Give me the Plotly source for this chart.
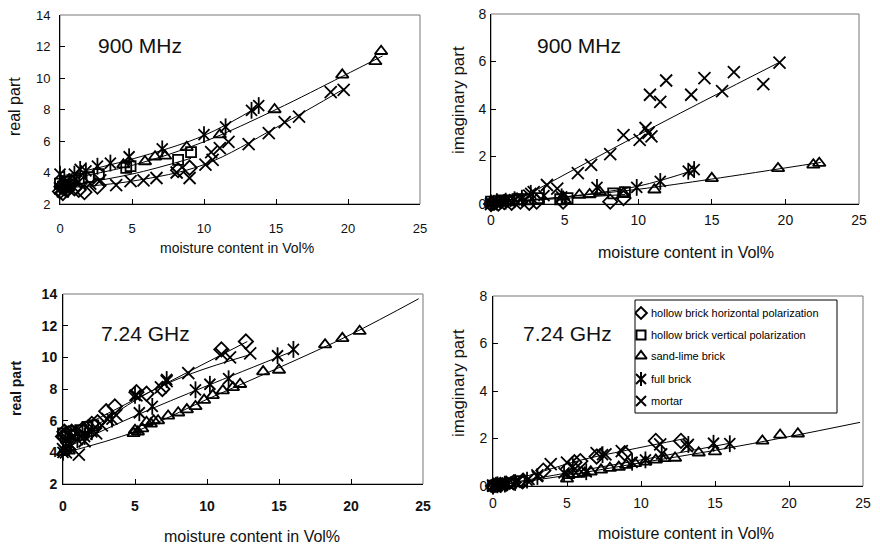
import plotly.graph_objects as go

W, H = 880, 546
FONT = "Arial, Liberation Sans, sans-serif"

# ---------------- DATA ----------------
# Panel 1: 900 MHz, real part
p1_hh_x = [0.0, 0.1, 0.2, 0.3, 0.5, 0.7, 1.0, 1.3, 1.7, 2.6, 8.2, 9.0]
p1_hh_y = [2.8, 3.1, 2.7, 3.0, 2.9, 3.2, 3.0, 2.9, 2.75, 3.1, 4.15, 4.3]
p1_hv_x = [0.0, 0.2, 0.4, 0.6, 1.0, 1.5, 2.0, 2.7, 4.6, 4.9, 8.2, 9.1]
p1_hv_y = [3.3, 3.1, 3.4, 3.2, 3.5, 3.6, 3.7, 3.9, 4.3, 4.4, 4.8, 5.3]
p1_sl_x = [0.1, 0.4, 0.8, 4.4, 5.9, 6.6, 7.3, 8.8, 11.1, 14.9, 19.6, 21.9, 22.3]
p1_sl_y = [3.3, 3.2, 3.5, 4.5, 4.7, 5.0, 5.05, 5.6, 6.4, 8.0, 10.2, 11.05, 11.7]
p1_fb_x = [0.0, 0.3, 1.0, 1.4, 1.8, 2.6, 3.5, 4.8, 7.1, 10.0, 11.5, 13.3, 13.8]
p1_fb_y = [3.9, 3.6, 3.9, 4.2, 4.1, 4.4, 4.6, 5.0, 5.5, 6.4, 6.9, 7.95, 8.25]
p1_mo_x = [0.0, 0.2, 0.5, 0.9, 1.3, 2.1, 2.8, 3.9, 4.9, 5.8, 6.7, 8.1, 9.0, 10.1,
           10.6, 10.5, 11.1, 11.7, 13.1, 14.5, 15.6, 16.6, 18.8, 19.7]
p1_mo_y = [3.0, 2.8, 3.2, 3.1, 3.4, 3.3, 3.5, 3.2, 3.45, 3.5, 3.65, 4.0, 3.65, 4.5,
           4.8, 5.3, 5.55, 5.95, 5.8, 6.5, 7.2, 7.55, 9.1, 9.25]
p1_fit = {
    "fb": ([0, 5, 10, 13.8], [3.75, 4.85, 6.35, 8.2]),
    "sl": ([0, 5, 10, 15, 19.6, 22.4], [3.5, 4.45, 5.95, 8.0, 10.1, 11.4]),
    "mo": ([0, 5, 10, 15, 19.8], [3.0, 3.45, 4.5, 6.85, 9.35]),
    "hb": ([0, 5, 9.1], [3.1, 3.9, 4.9]),
}

# Panel 2: 900 MHz, imaginary part
p2_hh_x = [0.0, 0.2, 0.5, 0.9, 1.4, 2.0, 2.6, 3.1, 4.9, 8.1, 9.0]
p2_hh_y = [0.0, 0.05, 0.02, 0.08, 0.05, 0.1, 0.05, 0.1, 0.1, 0.1, 0.25]
p2_hv_x = [0.0, 0.3, 0.7, 1.2, 1.8, 2.5, 3.2, 4.7, 5.2, 8.3, 9.1]
p2_hv_y = [0.1, 0.1, 0.15, 0.15, 0.2, 0.2, 0.25, 0.2, 0.25, 0.45, 0.5]
p2_sl_x = [0.1, 0.5, 1.0, 4.9, 6.0, 6.7, 7.4, 9.0, 11.1, 15.0, 19.5, 21.9, 22.3]
p2_sl_y = [0.05, 0.1, 0.1, 0.3, 0.38, 0.4, 0.5, 0.45, 0.6, 1.08, 1.5, 1.65, 1.72]
p2_fb_x = [0.0, 0.4, 1.0, 1.6, 2.1, 2.7, 3.6, 4.8, 7.2, 9.9, 11.5, 13.4, 13.8]
p2_fb_y = [0.05, 0.1, 0.12, 0.18, 0.25, 0.45, 0.35, 0.3, 0.7, 0.7, 0.95, 1.38, 1.45]
p2_mo_x = [0.0, 0.3, 0.8, 1.3, 2.0, 2.6, 2.9, 3.8, 4.5, 5.9, 6.8, 8.1, 9.0, 10.1, 10.5,
           10.7, 10.9, 10.8, 11.5, 11.9, 13.6, 14.5, 15.7, 16.5, 18.5, 19.6]
p2_mo_y = [0.0, 0.05, 0.1, 0.15, 0.2, 0.35, 0.5, 0.8, 0.65, 1.3, 1.65, 2.1, 2.9, 2.7, 3.2,
           3.0, 2.85, 4.6, 4.3, 5.2, 4.6, 5.3, 4.75, 5.55, 5.05, 5.95]
p2_fit = {
    "mo": ([0, 10, 19.7], [-0.45, 2.9, 6.0]),
    "fb": ([0, 5, 10, 13.9], [0.05, 0.3, 0.75, 1.45]),
    "sl": ([0, 5, 10, 15, 22.4], [0.05, 0.3, 0.62, 1.05, 1.75]),
    "hb": ([0, 9.1], [0.05, 0.4]),
}

# Panel 3: 7.24 GHz, real part
p3_hh_x = [0.0, 0.1, 0.2, 0.4, 0.6, 0.9, 1.3, 1.6, 2.0, 2.4, 3.0, 3.6, 5.1, 5.8, 6.9, 11.0, 12.7]
p3_hh_y = [5.0, 5.3, 5.1, 5.2, 5.3, 5.2, 5.4, 5.5, 5.8, 5.9, 6.6, 6.9, 7.8, 7.7, 8.0, 10.5, 11.0]
p3_hv_x = [0.0, 0.2, 0.5, 0.8, 1.2, 1.7, 2.1]
p3_hv_y = [5.2, 5.0, 5.3, 5.1, 5.4, 5.6, 5.7]
p3_sl_x = [0.0, 0.2, 0.4, 4.9, 5.0, 5.2, 5.5, 5.8, 6.1, 6.3, 6.6, 7.3, 8.0, 8.6, 9.2, 9.8,
           10.4, 11.1, 11.8, 12.3, 13.9, 15.0, 18.2, 19.4, 20.6]
p3_sl_y = [4.0, 4.2, 4.1, 5.2, 5.4, 5.3, 5.5, 5.9, 5.8, 6.0, 6.0, 6.3, 6.5, 6.7, 6.9, 7.3,
           7.6, 7.9, 8.1, 8.3, 9.1, 9.2, 10.8, 11.2, 11.65]
p3_fb_x = [0.0, 0.2, 0.5, 1.0, 1.5, 2.0, 3.4, 5.0, 5.3, 6.2, 7.2, 9.2, 10.2, 11.5, 14.9, 16.0]
p3_fb_y = [4.0, 4.3, 4.5, 4.8, 5.0, 5.3, 6.1, 7.6, 6.5, 6.9, 8.6, 7.95, 8.3, 8.65, 10.1, 10.5]
p3_mo_x = [0.0, 0.2, 0.5, 1.1, 1.5, 2.3, 2.7, 3.1, 3.7, 5.1, 6.8, 7.2, 8.7, 11.0, 11.6, 13.0]
p3_mo_y = [4.2, 4.0, 4.5, 3.85, 4.7, 5.2, 5.7, 6.1, 6.35, 7.6, 8.1, 8.5, 9.0, 10.2, 10.0, 10.25]
p3_fit = {
    "hh": ([0, 12.8], [5.0, 11.0]),
    "mo": ([0, 3, 6, 9, 13.1], [4.3, 6.1, 7.8, 9.0, 10.2]),
    "fb": ([0, 5, 10, 16], [4.2, 6.3, 8.2, 10.4]),
    "sl": ([0, 5, 10, 15, 20, 24.7], [3.95, 5.3, 7.35, 9.35, 11.45, 13.7]),
}

# Panel 4: 7.24 GHz, imaginary part
p4_hh_x = [0.0, 0.2, 0.5, 0.9, 1.4, 2.0, 3.4, 5.5, 5.9, 7.0, 8.9, 11.0, 12.7]
p4_hh_y = [0.0, 0.05, 0.05, 0.1, 0.15, 0.2, 0.65, 1.0, 1.05, 1.24, 1.38, 1.9, 1.9]
p4_hv_x = [0.0, 0.3, 0.7, 1.2, 1.8]
p4_hv_y = [0.02, 0.05, 0.1, 0.12, 0.2]
p4_sl_x = [0.0, 0.3, 5.0, 5.1, 5.4, 5.8, 6.2, 6.6, 7.3, 7.9, 8.5, 9.0, 9.6, 10.3, 11.0,
           11.6, 12.3, 13.9, 15.0, 18.2, 19.4, 20.6]
p4_sl_y = [0.0, 0.02, 0.3, 0.45, 0.5, 0.5, 0.55, 0.6, 0.68, 0.75, 0.8, 0.88, 0.95, 1.02, 1.1,
           1.16, 1.18, 1.4, 1.45, 1.9, 2.15, 2.2]
p4_fb_x = [0.0, 0.3, 0.8, 1.5, 2.3, 3.0, 4.8, 5.4, 6.3, 7.4, 9.4, 10.3, 11.4, 13.2, 14.9, 16.0]
p4_fb_y = [0.0, 0.05, 0.08, 0.15, 0.25, 0.4, 0.55, 0.82, 0.6, 1.32, 1.0, 1.1, 1.35, 1.75, 1.8, 1.78]
p4_mo_x = [0.0, 0.2, 0.6, 1.0, 1.6, 2.4, 3.0, 3.9, 5.0, 7.0, 7.6, 8.7, 11.3, 13.1]
p4_mo_y = [0.02, 0.0, 0.05, 0.1, 0.15, 0.3, 0.45, 0.92, 0.98, 1.38, 1.33, 1.47, 1.75, 1.68]
p4_fit = {
    "sl": ([0, 5, 10, 15, 20, 24.8], [0.0, 0.45, 0.98, 1.5, 2.08, 2.68]),
    "fb": ([0, 5, 10, 16], [0.0, 0.55, 1.1, 1.8]),
    "hh": ([0, 3, 6, 9, 13], [0.0, 0.55, 1.1, 1.5, 2.0]),
}

x_ticks = [0, 5, 10, 15, 20, 25]
legend_labels = ["hollow brick horizontal polarization", "hollow brick vertical polarization",
                 "sand-lime brick", "full brick", "mortar"]
panel_titles = ["900 MHz", "900 MHz", "7.24 GHz", "7.24 GHz"]
x_title = "moisture content in Vol%"
y_titles = ["real part", "imaginary part", "real part", "imaginary part"]

# ---------------- LAYOUT HELPERS ----------------
def px(x): return x / W
def py(y): return 1 - y / H

# plot-area pixel boxes (left, right, top, bottom)
boxes = [(60, 420, 15, 204), (491, 859, 14, 204), (63, 423, 294, 484), (493, 863, 296, 486)]
yranges = [[2, 14], [0, 8], [2, 14], [0, 8]]
tick_sizes = [13, 14, 14, 14]
tick_weights = ["normal", "normal", "bold", "normal"]
xstand = [12, 3, 9, 4]
ystand = [6, 1, 2, 2]

fig = go.Figure()

def add_panel(i, data, fits):
    ax = "" if i == 0 else str(i + 1)
    xa, ya = "x" + ax, "y" + ax
    for fx, fy in fits.values():
        fig.add_trace(go.Scatter(x=fx, y=fy, mode="lines", line=dict(color="black", width=1, shape="spline"),
                                 xaxis=xa, yaxis=ya, showlegend=False, hoverinfo="skip"))
    (hhx, hhy), (hvx, hvy), (slx, sly), (fbx, fby), (mox, moy) = data
    specs = [
        (hhx, hhy, "diamond-open", 11),
        (hvx, hvy, "square-open", 10),
        (slx, sly, "triangle-up-open", 11),
        (fbx, fby, "x-thin-open", 11),
        (fbx, fby, "line-ns-open", 12),
        (mox, moy, "x-thin-open", 12),
    ]
    for sx, sy, sym, sz in specs:
        fig.add_trace(go.Scatter(x=sx, y=sy, mode="markers", cliponaxis=False,
                                 marker=dict(symbol=sym, size=sz, color="black",
                                             line=dict(color="black", width=1.8)),
                                 xaxis=xa, yaxis=ya, showlegend=False))
    l, r, t, b = boxes[i]
    common = dict(showgrid=False, zeroline=False, showline=True, linecolor="black", linewidth=1,
                  ticks="inside", ticklen=5, tickcolor="black", automargin=False,
                  tickfont=dict(family=FONT, size=tick_sizes[i], color="#111", weight=tick_weights[i]))
    fig.layout["xaxis" + ax] = dict(domain=[px(l), px(r)], range=[0, 25], tickvals=x_ticks,
                                    anchor=ya, ticklabelstandoff=xstand[i], **common)
    fig.layout["yaxis" + ax] = dict(domain=[py(b), py(t)], range=yranges[i], dtick=2,
                                    anchor=xa, ticklabelstandoff=ystand[i], **common)
    fig.add_shape(type="rect", xref=xa + " domain", yref=ya + " domain", x0=0, x1=1, y0=0, y1=1,
                  line=dict(color="#777", width=1), layer="below")

add_panel(0, [(p1_hh_x, p1_hh_y), (p1_hv_x, p1_hv_y), (p1_sl_x, p1_sl_y), (p1_fb_x, p1_fb_y), (p1_mo_x, p1_mo_y)], p1_fit)
add_panel(1, [(p2_hh_x, p2_hh_y), (p2_hv_x, p2_hv_y), (p2_sl_x, p2_sl_y), (p2_fb_x, p2_fb_y), (p2_mo_x, p2_mo_y)], p2_fit)
add_panel(2, [(p3_hh_x, p3_hh_y), (p3_hv_x, p3_hv_y), (p3_sl_x, p3_sl_y), (p3_fb_x, p3_fb_y), (p3_mo_x, p3_mo_y)], p3_fit)
add_panel(3, [(p4_hh_x, p4_hh_y), (p4_hv_x, p4_hv_y), (p4_sl_x, p4_sl_y), (p4_fb_x, p4_fb_y), (p4_mo_x, p4_mo_y)], p4_fit)

# ---------------- MANUAL LEGEND (overlay axes in panel 4) ----------------
lg_l, lg_r, lg_t, lg_b = 635, 837, 300, 413
fig.layout["xaxis5"] = dict(domain=[px(lg_l), px(lg_r)], range=[0, 1], visible=False, anchor="y5", automargin=False)
fig.layout["yaxis5"] = dict(domain=[py(lg_b), py(lg_t)], range=[0, 1], visible=False, anchor="x5", automargin=False)
entry_px = [313, 335, 356, 379, 401]
entry_y = [(lg_b - e) / (lg_b - lg_t) for e in entry_px]
mx = (641 - lg_l) / (lg_r - lg_l)
tx = (649 - lg_l) / (lg_r - lg_l)
leg_syms = [["diamond-open"], ["square-open"], ["triangle-up-open"], ["x-thin-open", "line-ns-open"], ["x-thin-open"]]
leg_sizes = [9, 9, 10, 10, 10]
for k, syms in enumerate(leg_syms):
    for s in syms:
        fig.add_trace(go.Scatter(x=[mx], y=[entry_y[k]], mode="markers", xaxis="x5", yaxis="y5",
                                 showlegend=False, hoverinfo="skip",
                                 marker=dict(symbol=s, size=leg_sizes[k], color="black",
                                             line=dict(color="black", width=2))))
    fig.add_annotation(x=tx, y=entry_y[k], xref="x5", yref="y5", text=legend_labels[k], showarrow=False,
                       xanchor="left", yanchor="middle", font=dict(family=FONT, size=11, color="black"))
fig.add_shape(type="rect", xref="paper", yref="paper", x0=px(lg_l), x1=px(lg_r), y0=py(lg_b), y1=py(lg_t),
              line=dict(color="black", width=1))

# ---------------- TEXT ----------------
title_pos = [(140, 45), (579, 45), (145, 333), (567, 333)]
for (cx, cy), t in zip(title_pos, panel_titles):
    fig.add_annotation(x=px(cx), y=py(cy), xref="paper", yref="paper", text=t, showarrow=False,
                       xanchor="center", yanchor="middle", font=dict(family=FONT, size=21, color="#111"))

xt_pos = [(237, 248, 14), (686, 252, 16), (252, 536, 16), (686, 533, 16)]
for cx, cy, sz in xt_pos:
    fig.add_annotation(x=px(cx), y=py(cy), xref="paper", yref="paper", text=x_title, showarrow=False,
                       xanchor="center", yanchor="middle", font=dict(family=FONT, size=sz, color="#111"))

yt_pos = [(15, 107, 16, "normal"), (458, 100, 17, "normal"), (16, 388, 14, "bold"), (458, 383, 17, "normal")]
for (cx, cy, sz, wt), t in zip(yt_pos, y_titles):
    fig.add_annotation(x=px(cx), y=py(cy), xref="paper", yref="paper", text=t, showarrow=False,
                       textangle=-90, xanchor="center", yanchor="middle",
                       font=dict(family=FONT, size=sz, color="#111", weight=wt))

fig.update_layout(width=W, height=H, margin=dict(l=0, r=0, t=0, b=0, pad=0, autoexpand=False),
                  paper_bgcolor="white", plot_bgcolor="white", showlegend=False)

# remove the default page margin so the 880x546 figure fills the window exactly
fig.write_html("out.html", config={"displayModeBar": False},
               post_script="document.body.style.margin='0';document.body.style.overflow='hidden';")
